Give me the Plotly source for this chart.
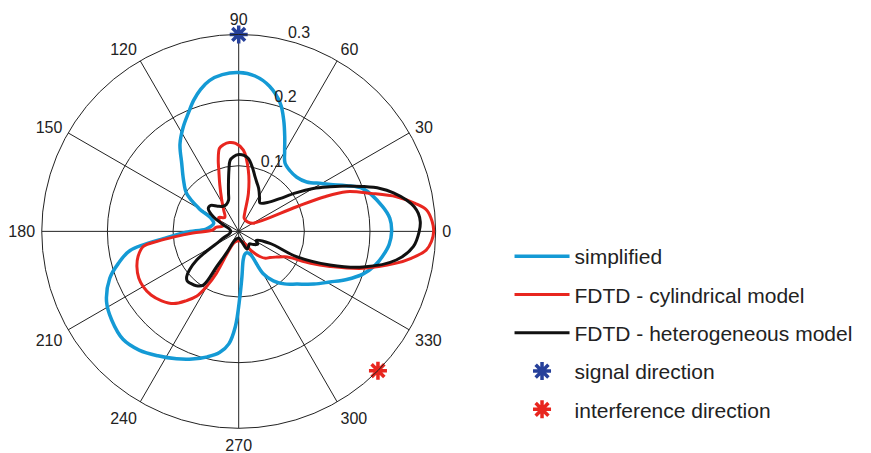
import plotly.graph_objects as go

# ---- data ----
simplified_theta = [0, 5, 10, 19, 23, 27, 30, 36, 43, 50, 56, 60, 64, 68, 72, 78, 84, 90, 96, 101, 105, 109, 113, 118, 124, 130,
                    137, 144, 150, 155, 162, 170, 176, 181, 185, 190, 195, 200, 208, 215, 223, 230, 237, 244, 250, 256, 261,
                    265, 268, 271, 274, 279, 285, 291, 297, 300, 305, 311, 318, 325, 331, 336, 341, 346, 350, 355, 360]
simplified_r = [0.233, 0.231, 0.222, 0.200, 0.178, 0.157, 0.146, 0.128, 0.121, 0.121, 0.126, 0.140, 0.160, 0.183, 0.205, 0.226,
                0.238, 0.242, 0.240, 0.234, 0.224, 0.211, 0.196, 0.180, 0.160, 0.135, 0.115, 0.098, 0.070, 0.046, 0.040,
                0.043, 0.050, 0.080, 0.110, 0.168, 0.190, 0.209, 0.228, 0.236, 0.241, 0.236, 0.226, 0.216, 0.207, 0.197,
                0.187, 0.172, 0.145, 0.100, 0.070, 0.044, 0.036, 0.035, 0.040, 0.074, 0.092, 0.106, 0.120, 0.140, 0.159,
                0.180, 0.200, 0.214, 0.222, 0.230, 0.233]

cyl_theta = [0, 3, 6.5, 9, 12.4, 16, 20.2, 22, 23, 24.7, 30, 45, 60, 68, 72, 75.7, 81, 86.7, 92, 96, 100, 103, 106, 108, 112,
             118.5, 125, 135, 145, 152, 160, 170, 177, 182, 185, 187, 189, 194, 199, 205, 210, 216, 222, 228, 233, 237, 240,
             242, 246, 260, 280, 295, 303, 310, 315, 320, 326, 331, 333, 336, 339, 343.5, 348.6, 351, 354.3, 357, 360]
cyl_r = [0.297, 0.295, 0.288, 0.272, 0.246, 0.210, 0.175, 0.140, 0.096, 0.041, 0.025, 0.020, 0.020, 0.022, 0.030, 0.060,
         0.094, 0.124, 0.134, 0.136, 0.134, 0.130, 0.113, 0.098, 0.077, 0.054, 0.040, 0.030, 0.037, 0.033, 0.025, 0.035,
         0.040, 0.070, 0.100, 0.125, 0.147, 0.158, 0.164, 0.168, 0.168, 0.165, 0.158, 0.148, 0.132, 0.118, 0.095, 0.072,
         0.020, 0.015, 0.015, 0.020, 0.035, 0.050, 0.058, 0.062, 0.070, 0.080, 0.088, 0.120, 0.149, 0.198, 0.245, 0.265,
         0.287, 0.294, 0.297]

het_theta = [0, 3, 5.7, 8, 10.6, 14, 16.9, 20, 22.9, 26, 29.9, 34, 38.6, 45, 53.3, 58, 65, 70, 73.4, 78, 82.5, 86, 90, 94,
             96.9, 99, 102, 105, 108, 115, 122, 130, 137, 143, 150, 157, 165, 180, 195, 203, 208.6, 212, 214.3, 218, 221,
             224, 227, 232, 236.6, 238, 241, 246, 270, 285, 295, 302, 310, 318, 326, 332, 339, 336.4, 339.8, 344, 349.7,
             355, 360]
het_r = [0.275, 0.277, 0.275, 0.270, 0.260, 0.243, 0.225, 0.200, 0.178, 0.155, 0.131, 0.105, 0.080, 0.062, 0.054, 0.060,
         0.072, 0.080, 0.087, 0.100, 0.112, 0.116, 0.117, 0.114, 0.109, 0.095, 0.075, 0.060, 0.050, 0.045, 0.045, 0.050,
         0.058, 0.058, 0.045, 0.025, 0.015, 0.012, 0.015, 0.025, 0.038, 0.060, 0.077, 0.095, 0.105, 0.109, 0.108, 0.105,
         0.098, 0.063, 0.035, 0.015, 0.010, 0.015, 0.030, 0.028, 0.025, 0.030, 0.035, 0.030, 0.051, 0.096, 0.148, 0.197,
         0.244, 0.267, 0.275]

signal_theta = [90]
signal_r = [0.3]
interference_theta = [315]
interference_r = [0.3]

angle_ticks = list(range(0, 360, 30))
radial_ticks = [0.1, 0.2, 0.3]
radial_labels = ["0.1", "0.2", "0.3"]

BLUE = "#149ad5"
RED = "#e8261f"
BLACK = "#111111"

fig = go.Figure()
fig.add_trace(go.Scatterpolar(theta=simplified_theta, r=simplified_r, mode="lines", name="simplified",
                              line=dict(color=BLUE, width=3.5, shape="spline"), legendgroup="a"))
fig.add_trace(go.Scatterpolar(theta=cyl_theta, r=cyl_r, mode="lines", name="FDTD - cylindrical model",
                              line=dict(color=RED, width=3, shape="spline"), legendgroup="b"))
fig.add_trace(go.Scatterpolar(theta=het_theta, r=het_r, mode="lines", name="FDTD - heterogeneous model",
                              line=dict(color=BLACK, width=3, shape="spline"), legendgroup="c"))
fig.add_trace(go.Scatterpolar(theta=signal_theta, r=signal_r, mode="markers", name="signal direction",
                              marker=dict(symbol="asterisk-open", size=15, color="#26409a",
                                          line=dict(color="#26409a", width=3.5)), legendgroup="d", cliponaxis=False))
fig.add_trace(go.Scatterpolar(theta=interference_theta, r=interference_r, mode="markers", name="interference direction",
                              marker=dict(symbol="asterisk-open", size=15, color=RED,
                                          line=dict(color=RED, width=3.5)), legendgroup="e", cliponaxis=False))

fig.update_layout(
    width=871, height=453,
    margin=dict(l=0, r=0, t=0, b=0),
    paper_bgcolor="white", plot_bgcolor="white",
    font=dict(family="Liberation Sans, Arial, sans-serif", size=16, color="#222"),
    polar=dict(
        domain=dict(x=[0.0479, 0.5002], y=[0.0545, 0.924]),
        bgcolor="white",
        angularaxis=dict(direction="counterclockwise", rotation=0, tickmode="array", tickvals=angle_ticks,
                         ticktext=[str(a) for a in angle_ticks], ticks="outside", ticklen=3,
                         tickcolor="rgba(0,0,0,0)", showline=True, linecolor="#222",
                         linewidth=1, gridcolor="#222", gridwidth=0.8, tickfont=dict(size=16)),
        radialaxis=dict(range=[0, 0.3], tickmode="array", tickvals=radial_ticks,
                        ticktext=[t + "<br> " for t in radial_labels], angle=78, tickangle=78, side="clockwise",
                        showline=False, ticks="",
                        gridcolor="#222", gridwidth=0.8, tickfont=dict(size=16)),
    ),
    legend=dict(x=0.585, y=0.479, xanchor="left", yanchor="top", font=dict(size=21, color="#222"),
                tracegroupgap=8, itemwidth=55, bgcolor="rgba(0,0,0,0)"),
)

fig.write_html("out.html")
